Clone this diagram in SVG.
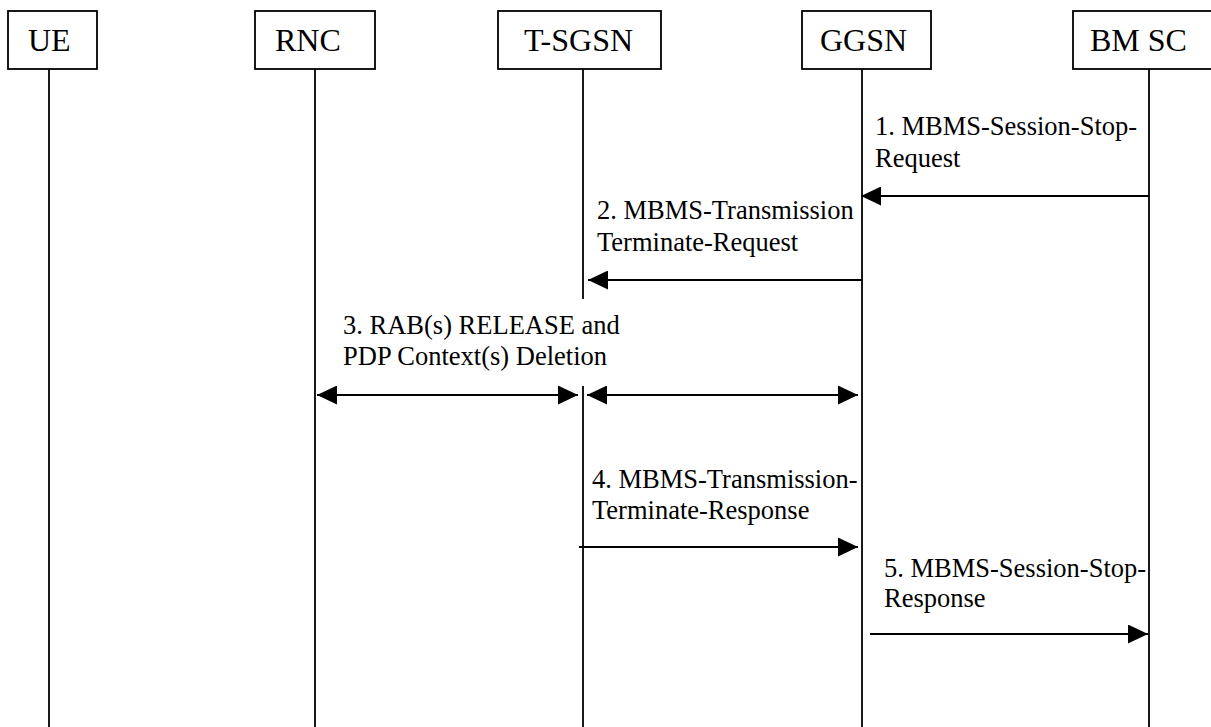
<svg xmlns="http://www.w3.org/2000/svg" width="1211" height="727" viewBox="0 0 1211 727">
<style>
.box{fill:#fff;stroke:#000;stroke-width:1.8}
.life{stroke:#000;stroke-width:1.8;fill:none}
.msg{stroke:#000;stroke-width:1.8;fill:none}
.nt{font-family:"Liberation Serif","Times New Roman",serif;font-size:32px;fill:#000}
.lb{font-family:"Liberation Serif","Times New Roman",serif;font-size:26.5px;fill:#000}
</style>
<defs>
<marker id="ah" markerUnits="userSpaceOnUse" markerWidth="20" markerHeight="19" refX="20" refY="9.5" orient="auto-start-reverse" viewBox="0 0 20 19">
<path d="M0,0 L20,9.5 L0,19 z" fill="#000"/>
</marker>
</defs>
<rect width="1211" height="727" fill="#fff"/>
<g id="UE">
<rect class="box" x="8" y="11" width="89" height="58"/>
<text class="nt" x="28" y="51">UE</text>
<line class="life" x1="49" y1="69" x2="49" y2="727"/>
</g>
<g id="RNC">
<rect class="box" x="255" y="11" width="120" height="58"/>
<text class="nt" x="275" y="51">RNC</text>
<line class="life" x1="315" y1="69" x2="315" y2="727"/>
</g>
<g id="T-SGSN">
<rect class="box" x="498" y="11" width="163" height="58"/>
<text class="nt" x="524" y="51">T-SGSN</text>
<line class="life" x1="583" y1="69" x2="583" y2="299"/>
<line class="life" x1="583" y1="386" x2="583" y2="727"/>
</g>
<g id="GGSN">
<rect class="box" x="802" y="11" width="129" height="58"/>
<text class="nt" x="820" y="51">GGSN</text>
<line class="life" x1="862" y1="69" x2="862" y2="727"/>
</g>
<g id="BMSC">
<rect class="box" x="1073" y="11" width="140" height="58"/>
<text class="nt" x="1090" y="51">BM SC</text>
<line class="life" x1="1149" y1="69" x2="1149" y2="727"/>
</g>
<g id="connectors">
<line class="msg" x1="1149" y1="196" x2="861" y2="196" marker-end="url(#ah)"/>
<line class="msg" x1="862" y1="280" x2="588" y2="280" marker-end="url(#ah)"/>
<line class="msg" x1="317" y1="395" x2="578" y2="395" marker-start="url(#ah)" marker-end="url(#ah)"/>
<line class="msg" x1="587" y1="395" x2="858" y2="395" marker-start="url(#ah)" marker-end="url(#ah)"/>
<line class="msg" x1="579" y1="547" x2="858" y2="547" marker-end="url(#ah)"/>
<line class="msg" x1="870" y1="634" x2="1148" y2="634" marker-end="url(#ah)"/>
</g>
<g id="labels">
<text class="lb" x="875" y="135">1. MBMS-Session-Stop-</text>
<text class="lb" x="875" y="167">Request</text>
<text class="lb" x="597" y="219">2. MBMS-Transmission</text>
<text class="lb" x="597" y="251">Terminate-Request</text>
<text class="lb" x="343" y="334">3. RAB(s) RELEASE and</text>
<text class="lb" x="343" y="365">PDP Context(s) Deletion</text>
<text class="lb" x="592" y="488">4. MBMS-Transmission-</text>
<text class="lb" x="592" y="519">Terminate-Response</text>
<text class="lb" x="884" y="577">5. MBMS-Session-Stop-</text>
<text class="lb" x="884" y="607">Response</text>
</g>
</svg>
